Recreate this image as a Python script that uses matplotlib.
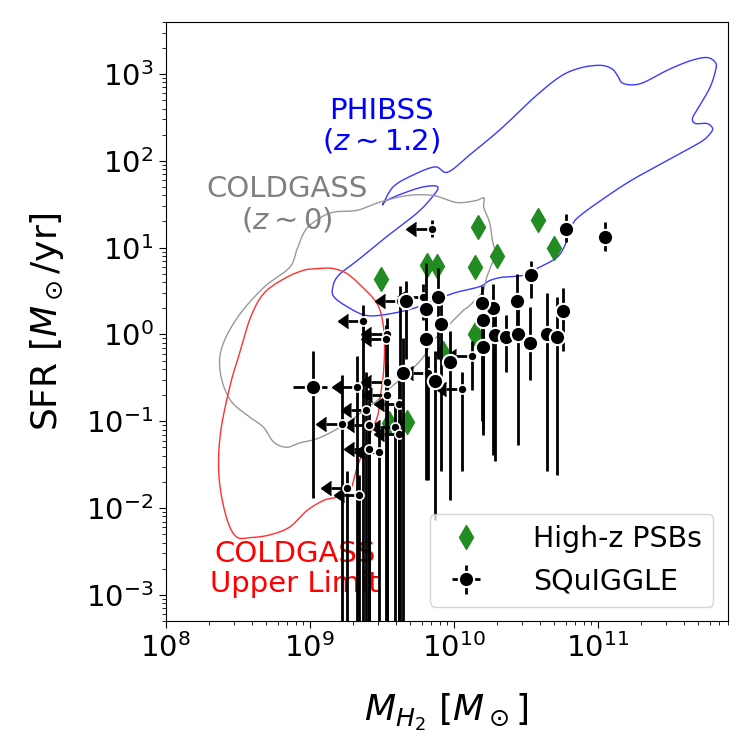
import numpy as np
import matplotlib
matplotlib.use("Agg")
import matplotlib.pyplot as plt

# ---------------- contour outlines (log10 M_H2, log10 SFR) ----------------
phibss_logM = [9.51, 9.58, 9.71, 9.87, 9.96, 10.12, 10.33, 10.56, 10.74, 10.88, 11.02, 11.10, 11.14,
               11.18, 11.30, 11.48, 11.64, 11.76, 11.82, 11.82, 11.78, 11.70, 11.66, 11.68, 11.76,
               11.80, 11.77, 11.71, 11.48, 11.23, 11.02, 10.88, 10.83, 10.79, 10.78, 10.72, 10.58,
               10.48, 10.34, 10.25, 10.18, 9.99, 9.74, 9.53, 9.39, 9.27, 9.17, 9.16, 9.20, 9.33,
               9.53, 9.74, 9.85, 9.89, 9.79, 9.64, 9.53]
phibss_logSFR = [1.50, 1.70, 1.83, 1.93, 1.87, 2.08, 2.37, 2.73, 2.97, 3.07, 3.10, 3.06, 2.98,
                 2.89, 2.89, 3.04, 3.15, 3.19, 3.13, 3.04, 2.84, 2.61, 2.49, 2.43, 2.43,
                 2.37, 2.29, 2.21, 2.00, 1.77, 1.54, 1.37, 1.28, 1.12, 1.05, 0.89, 0.76,
                 0.68, 0.66, 0.62, 0.55, 0.47, 0.31, 0.23, 0.22, 0.31, 0.43, 0.54, 0.68, 0.85,
                 1.12, 1.39, 1.58, 1.70, 1.70, 1.62, 1.54]

coldgass_logM = [10.21, 10.21, 10.25, 10.27, 10.29, 10.26, 10.23, 10.20, 10.11, 10.07, 9.98, 9.86,
                 9.79, 9.68, 9.54, 9.47, 9.42, 9.26, 9.07, 8.93, 8.84, 8.75, 8.68, 8.59, 8.45,
                 8.38, 8.39, 8.50, 8.68, 8.86, 8.91, 8.97, 9.07, 9.17, 9.33, 9.48, 9.68, 9.86,
                 10.02, 10.15]
coldgass_logSFR = [1.57, 1.46, 1.29, 1.08, 0.93, 0.79, 0.66, 0.49, 0.33, 0.28, 0.13, -0.07,
                   -0.26, -0.45, -0.64, -0.76, -0.82, -1.02, -1.19, -1.25, -1.30, -1.24, -1.07,
                   -0.96, -0.76, -0.45, -0.15, 0.20, 0.54, 0.77, 0.97, 1.20, 1.34, 1.41, 1.43,
                   1.52, 1.60, 1.60, 1.52, 1.54]

cgul_logM = [9.07, 8.96, 8.82, 8.68, 8.59, 8.52, 8.45, 8.38, 8.37, 8.42, 8.49, 8.59, 8.72, 8.86,
             8.98, 9.10, 9.20, 9.28, 9.33, 9.40, 9.47, 9.49, 9.51, 9.52, 9.51, 9.47, 9.37, 9.26,
             9.16]
cgul_logSFR = [0.76, 0.74, 0.64, 0.47, 0.20, -0.18, -0.57, -1.14, -1.64, -2.10, -2.33, -2.34,
               -2.31, -2.22, -2.03, -1.91, -1.87, -1.80, -1.53, -1.22, -0.95, -0.72, -0.49,
               -0.18, 0.12, 0.35, 0.54, 0.70, 0.76]

# ---------------- High-z post-starburst galaxies ----------------
psb_M = [3.13e9, 6.52e9, 7.62e9, 1.41e10, 1.47e10, 2.01e10, 3.87e10, 4.99e10, 1.41e10,
         8.39e9, 4.73e9, 3.56e9]
psb_SFR = [4.38, 6.39, 6.22, 5.95, 17.2, 8.0, 20.9, 9.9, 1.02, 0.61, 0.098, 0.095]

# ---------------- SQuIGGLE detections ----------------
det_M = [1.13e11, 6.05e10, 3.46e10, 2.77e10, 5.74e10, 1.89e10, 1.57e10, 1.60e10, 1.94e10,
         2.32e10, 2.79e10, 3.37e10, 4.49e10, 5.21e10, 1.60e10, 4.68e9, 7.76e9, 6.41e9,
         8.22e9, 6.41e9, 9.46e9, 4.48e9, 7.43e9, 1.05e9]
det_M_lo = [1.13e11, 6.05e10, 3.46e10, 2.77e10, 5.74e10, 1.89e10, 1.57e10, 1.60e10, 1.94e10,
            2.32e10, 2.79e10, 3.37e10, 4.49e10, 5.21e10, 1.60e10, 4.68e9, 7.76e9, 6.41e9,
            8.22e9, 6.41e9, 9.46e9, 4.48e9, 7.43e9, 7.7e8]
det_M_hi = [1.13e11, 6.05e10, 3.46e10, 2.77e10, 5.74e10, 1.89e10, 1.57e10, 1.60e10, 1.94e10,
            2.32e10, 2.79e10, 3.37e10, 4.49e10, 5.21e10, 1.60e10, 4.68e9, 7.76e9, 6.41e9,
            8.22e9, 6.41e9, 9.46e9, 4.48e9, 7.43e9, 1.32e9]
det_SFR = [13.4, 16.6, 4.78, 2.40, 1.84, 2.01, 2.29, 1.47, 0.975, 0.93, 1.02, 0.79, 1.00, 0.93,
           0.71, 2.46, 2.69, 1.98, 1.33, 0.89, 0.48, 0.359, 0.288, 0.248]
det_SFR_hi = [19.6, 24.7, 7.1, 5.0, 3.44, 3.83, 3.66, 2.46, 1.66, 1.66, 2.46, 2.05, 3.04, 2.67,
              1.27, 4.18, 5.76, 6.7, 2.46, 2.16, 1.11, 0.90, 0.65, 0.65]
det_SFR_lo = [9.1, 11.5, 2.6, 1.11, 0.65, 0.041, 0.102, 0.079, 0.035, 0.366, 0.053, 0.296,
              0.027, 0.024, 0.069, 0.52, 0.52, 0.65, 0.027, 0.021, 0.0123, 1e-6, 0.0072, 0.0129]

# ---------------- SQuIGGLE upper limits in M_H2 ----------------
lim_M = [7.05e9, 2.36e9, 3.44e9, 3.40e9, 6.11e9, 4.25e9, 1.34e10, 1.14e10, 6.68e9, 2.14e9,
         3.44e9, 3.47e9, 4.20e9, 2.47e9, 1.67e9, 2.60e9, 3.93e9, 4.20e9, 2.60e9, 3.05e9,
         1.81e9, 2.21e9]
lim_SFR = [16.4, 1.41, 1.02, 0.89, 2.69, 2.40, 0.558, 0.237, 0.359, 0.248, 0.282, 0.199, 0.156,
           0.133, 0.094, 0.091, 0.086, 0.072, 0.048, 0.044, 0.017, 0.014]
lim_SFR_hi = [21.0, 2.16, 1.53, 1.27, 3.86, 3.66, 0.85, 0.37, 0.57, 0.57, 0.44, 0.259, 0.296,
              0.37, 0.337, 0.174, 0.152, 0.102, 0.090, 0.079, 0.027, 0.024]
lim_SFR_lo = [13.1, 1e-6, 1e-6, 1e-6, 1.45, 1e-6, 0.227, 0.027, 0.021, 1e-6, 1e-6, 1e-6, 1e-6,
              1e-6, 1e-6, 1e-6, 1e-6, 1e-6, 1e-6, 1e-6, 1e-6, 1e-6]


def smooth_closed(xs, ys, n=24):
    P = np.column_stack([xs, ys])
    N = len(P)
    t = np.linspace(0, 1, n, endpoint=False)[:, None]
    out = []
    for i in range(N):
        p0, p1, p2, p3 = P[(i - 1) % N], P[i], P[(i + 1) % N], P[(i + 2) % N]
        seg = 0.5 * ((2 * p1) + (-p0 + p2) * t + (2 * p0 - 5 * p1 + 4 * p2 - p3) * t ** 2
                     + (-p0 + 3 * p1 - 3 * p2 + p3) * t ** 3)
        out.append(seg)
    out.append(P[:1])
    return np.vstack(out)


fig = plt.figure(figsize=(7.5, 7.5), dpi=100)
ax = fig.add_axes([0.221, 0.172, 0.749, 0.799])
ax.set_xscale("log")
ax.set_yscale("log")

for lm, ls, col in [(phibss_logM, phibss_logSFR, "#3b3bff"),
                    (coldgass_logM, coldgass_logSFR, "#999999"),
                    (cgul_logM, cgul_logSFR, "#ff3030")]:
    c = smooth_closed(lm, ls)
    ax.plot(10 ** c[:, 0], 10 ** c[:, 1], color=col, lw=1.0, zorder=1)

ax.text(3.13e9, 250, "PHIBSS\n($z\\sim1.2$)", color="blue", fontsize=21,
        ha="center", va="center", linespacing=1.1)
ax.text(6.97e8, 31, "COLDGASS\n($z\\sim0$)", color="gray", fontsize=21,
        ha="center", va="center", linespacing=1.1)
ax.text(7.86e8, 1.98e-3, "COLDGASS\nUpper Limit", color="red", fontsize=21,
        ha="center", va="center", linespacing=1.1)

ax.plot(psb_M, psb_SFR, "d", color="forestgreen", ms=12, ls="none", label="High-z PSBs", zorder=2)

det_M = np.array(det_M)
det_SFR = np.array(det_SFR)
lim_M = np.array(lim_M)
lim_SFR = np.array(lim_SFR)

# upper-limit arrows
ax.errorbar(lim_M, lim_SFR, xerr=0.22 * lim_M, xuplims=True, fmt="none", ecolor="k",
            color="k", elinewidth=2, capsize=5, zorder=3)
ax.errorbar(lim_M, lim_SFR,
            yerr=[lim_SFR - np.array(lim_SFR_lo), np.array(lim_SFR_hi) - lim_SFR],
            fmt="o", color="k", ms=6.5, mec="white", mew=1.2, elinewidth=2, capsize=0, zorder=4)

ax.errorbar(det_M, det_SFR,
            yerr=[det_SFR - np.array(det_SFR_lo), np.array(det_SFR_hi) - det_SFR],
            xerr=[det_M - np.array(det_M_lo), np.array(det_M_hi) - det_M],
            fmt="o", color="k", ms=11, mec="white", mew=1.5, elinewidth=2, capsize=0,
            label="SQuIGGLE", zorder=5)

ax.set_xlim(1e8, 8e11)
ax.set_ylim(5e-4, 4e3)
ax.set_xlabel("$M_{H_2}$ [$M_\\odot$]", fontsize=26, labelpad=21)
ax.set_ylabel("SFR [$M_\\odot$/yr]", fontsize=26, labelpad=14)
ax.tick_params(labelsize=21)
ax.tick_params(which="major", length=5.2)
ax.tick_params(which="minor", length=3)

ax.legend(loc="lower right", fontsize=20.5, handlelength=1.7, handletextpad=1.5)

fig.savefig("out.png", dpi=100)
